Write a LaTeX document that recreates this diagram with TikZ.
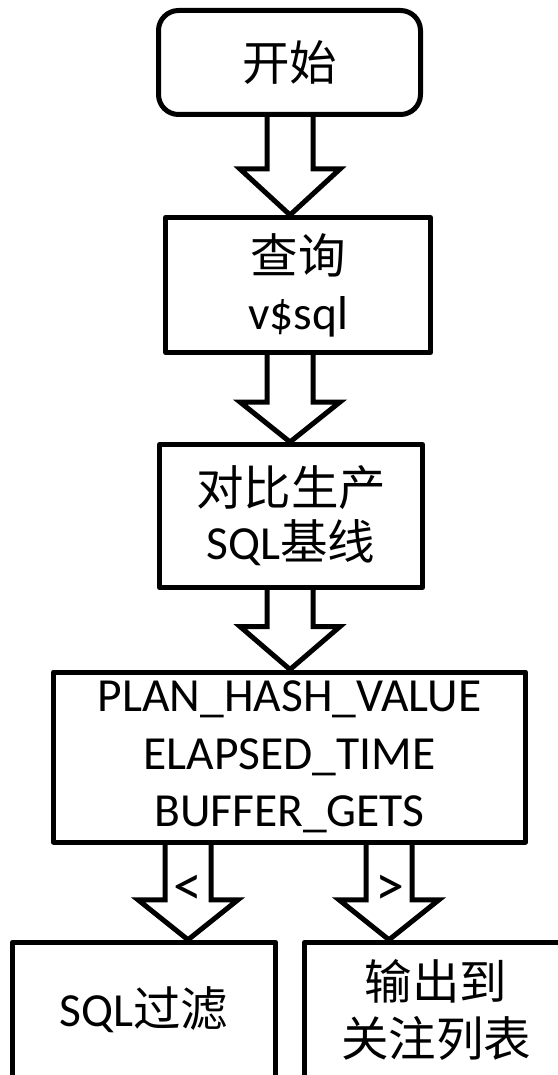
\documentclass[tikz,border=0pt]{standalone}
\usepackage{fontspec}
\setmainfont{Carlito}
\newfontfamily\cjk{Noto Sans CJK SC}
\usetikzlibrary{calc}

% hollow block arrow: #1 = top of shaft, #2 = tip, #3 = head length
\newcommand\blockarrow[3]{%
  \draw[hollowarrow] ($(#1)+(-23,0)$) -- ($(#2)+(-23,-#3)$) -- ($(#2)+(-50,-#3)$)
    -- (#2) -- ($(#2)+(50,-#3)$) -- ($(#2)+(23,-#3)$) -- ($(#1)+(23,0)$);}

\begin{document}
\begin{tikzpicture}[x=1pt,y=-1pt,
  flowbox/.style={draw, line width=5pt, line join=round, align=center, inner sep=0pt,
    font=\fontsize{47.5pt}{56pt}\selectfont},
  hollowarrow/.style={draw, line width=5pt, line join=miter},
  cmp/.style={inner sep=0pt, font=\fontsize{58pt}{60pt}\selectfont}]
\useasboundingbox (0,0) rectangle (557,1075);
\fill[white] (0,0) rectangle (557,1075);

% process boxes
\node[flowbox, rounded corners=20pt, minimum width=262pt, minimum height=104pt]
  (start) at (289.5,62.5) {{\cjk 开始}};
\node[flowbox, minimum width=265pt, minimum height=135pt,
  font=\fontsize{47.5pt}{56pt}\selectfont]
  (query) at (298,285) {{\cjk 查询}\\v\$sql};
\node[flowbox, minimum width=263pt, minimum height=143pt,
  font=\fontsize{47.5pt}{54pt}\selectfont]
  (compare) at (291,516) {{\cjk 对比生产}\\SQL{\cjk 基线}};
\node[flowbox, minimum width=472pt, minimum height=170pt,
  font=\fontsize{47.5pt}{57.5pt}\selectfont]
  (metrics) at (289.5,757) {PLAN\_HASH\_VALUE\\ELAPSED\_TIME\\BUFFER\_GETS};
\node[flowbox, minimum width=263pt, minimum height=135.5pt]
  (filter) at (144,1010) {SQL{\cjk 过滤}};
\node[flowbox, minimum width=263pt, minimum height=135.5pt,
  font=\fontsize{47.5pt}{57pt}\selectfont]
  (watch) at (436,1010) {{\cjk 输出到}\\{\cjk 关注列表}};

% arrow axes
\coordinate (ax) at (290,0);
\coordinate (lx) at (188,0);
\coordinate (rx) at (389,0);

\coordinate (s1) at (start.south -| ax);
\coordinate (t1) at (query.north -| ax);
\coordinate (s2) at (query.south -| ax);
\coordinate (t2) at (compare.north -| ax);
\coordinate (s3) at (compare.south -| ax);
\coordinate (t3) at (metrics.north -| ax);
\coordinate (s4) at (metrics.south -| lx);
\coordinate (t4) at (filter.north -| lx);
\coordinate (s5) at (metrics.south -| rx);
\coordinate (t5) at (watch.north -| rx);

\blockarrow{s1}{t1}{46}
\blockarrow{s2}{t2}{40}
\blockarrow{s3}{t3}{43}
\blockarrow{s4}{t4}{40}
\blockarrow{s5}{t5}{40}

% comparison labels inside the branch arrows
\node[cmp] (lt) at (188,890) {<};
\node[cmp] (gt) at (390,890) {>};
\end{tikzpicture}
\end{document}
